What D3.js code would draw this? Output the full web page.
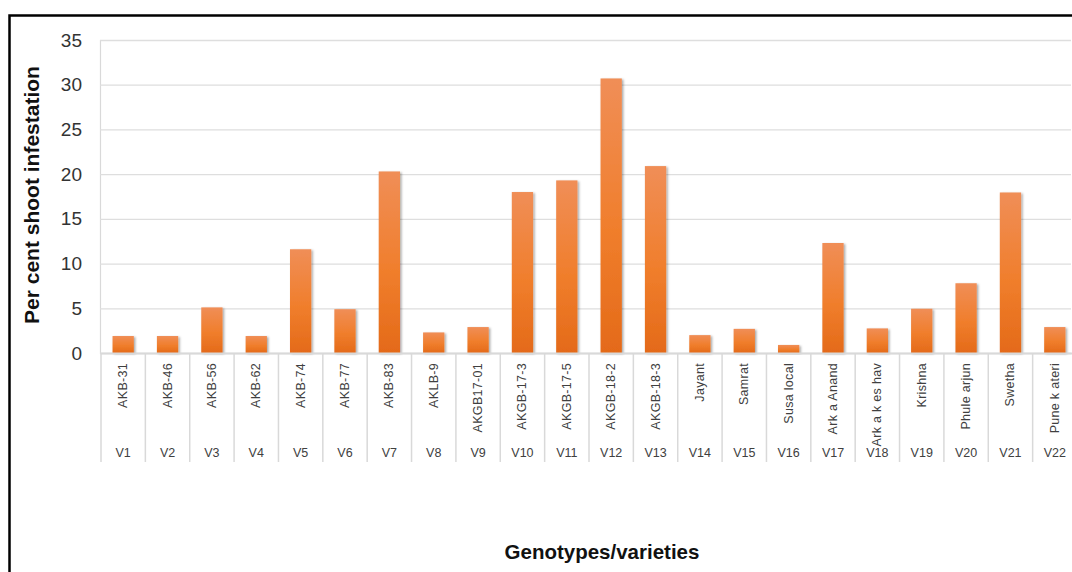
<!DOCTYPE html>
<html>
<head>
<meta charset="utf-8">
<script src="https://cdn.jsdelivr.net/npm/d3@7/dist/d3.min.js"></script>
<style>
  html, body { margin: 0; padding: 0; background: #fff; overflow: hidden; }
  svg { display: block; font-family: "Liberation Sans", Arial, sans-serif; }
</style>
</head>
<body>
<svg id="chart" width="1072" height="572"></svg>
<script>
const codes = ["V1","V2","V3","V4","V5","V6","V7","V8","V9","V10","V11","V12","V13","V14","V15","V16","V17","V18","V19","V20","V21","V22"];
const names = ["AKB-31","AKB-46","AKB-56","AKB-62","AKB-74","AKB-77","AKB-83","AKLB-9","AKGB17-01","AKGB-17-3","AKGB-17-5","AKGB-18-2","AKGB-18-3","Jayant","Samrat","Susa local","Ark a Anand","Ark a k es hav","Krishna","Phule arjun","Swetha","Pune k ateri"];
const values = [1.9, 1.9, 5.1, 1.9, 11.6, 4.9, 20.3, 2.3, 2.9, 18.0, 19.3, 30.7, 20.9, 2.0, 2.7, 0.9, 12.3, 2.75, 4.95, 7.8, 17.95, 2.9];
const yTicks = [0, 5, 10, 15, 20, 25, 30, 35];

const svg = d3.select("#chart");
const defs = svg.append("defs");
const grad = defs.append("linearGradient").attr("id", "barGrad")
  .attr("x1", 0).attr("y1", 0).attr("x2", 0).attr("y2", 1);
grad.append("stop").attr("offset", "0%").attr("stop-color", "#F08E57");
grad.append("stop").attr("offset", "55%").attr("stop-color", "#F07E2C");
grad.append("stop").attr("offset", "100%").attr("stop-color", "#E46A19");
const filt = defs.append("filter").attr("id", "shadow")
  .attr("x", "-30%").attr("y", "-10%").attr("width", "160%").attr("height", "130%");
filt.append("feDropShadow").attr("dx", 1.5).attr("dy", 1).attr("stdDeviation", 1.3)
  .attr("flood-color", "#000").attr("flood-opacity", 0.35);

const plotL = 101, plotR = 1077, plotT = 40, plotB = 353;
const x = d3.scaleBand().domain(codes).range([plotL, plotR]).padding(0);
const y = d3.scaleLinear().domain([0, 35]).range([plotB, plotT]);

// outer frame
svg.append("rect").attr("x", 9.5).attr("y", 15.5).attr("width", 1100).attr("height", 600)
  .attr("fill", "#fff").attr("stroke", "#000").attr("stroke-width", 2.5);

// gridlines
const yAxis = d3.axisLeft(y).tickValues(yTicks).tickSize(-(1072 - plotL)).tickPadding(18);
const gy = svg.append("g").attr("transform", `translate(${plotL - 1},0)`).call(yAxis);
gy.select(".domain").attr("stroke", "#d9d9d9").attr("stroke-width", 1.2);
gy.selectAll(".tick line").attr("stroke", "#dedede").attr("stroke-width", 1.3);
gy.selectAll(".tick text").attr("font-size", 19).attr("fill", "#333")
  .attr("font-family", "'Liberation Sans', Arial, sans-serif");

// bars
const bw = x.bandwidth() * 0.48;
svg.append("g").selectAll("rect").data(values).join("rect")
  .attr("x", (d, i) => x(codes[i]) + (x.bandwidth() - bw) / 2)
  .attr("y", d => y(d))
  .attr("width", bw)
  .attr("height", d => y(0) - y(d))
  .attr("fill", "url(#barGrad)")
  .attr("filter", "url(#shadow)");

// category axis
const gx = svg.append("g");
gx.append("line").attr("x1", plotL).attr("x2", 1072).attr("y1", plotB + 0.5).attr("y2", plotB + 0.5)
  .attr("stroke", "#d9d9d9").attr("stroke-width", 2);
const bounds = codes.map(c => x(c)).concat([x(codes[codes.length - 1]) + x.bandwidth()]);
gx.selectAll("line.div").data(bounds).join("line").attr("class", "div")
  .attr("x1", d => d).attr("x2", d => d).attr("y1", plotB).attr("y2", 462)
  .attr("stroke", "#d9d9d9").attr("stroke-width", 1.5);
gx.selectAll("text.name").data(names).join("text").attr("class", "name")
  .attr("transform", (d, i) => `translate(${x(codes[i]) + x.bandwidth() / 2 + 4},363) rotate(-90)`)
  .attr("text-anchor", "end")
  .attr("font-size", 12.5).attr("letter-spacing", 0.3).attr("fill", "#404040")
  .text(d => d);
gx.selectAll("text.code").data(codes).join("text").attr("class", "code")
  .attr("x", d => x(d) + x.bandwidth() / 2).attr("y", 457)
  .attr("text-anchor", "middle").attr("font-size", 12.5).attr("fill", "#404040")
  .text(d => d);

// axis titles
svg.append("text").attr("transform", "translate(39,195) rotate(-90)")
  .attr("text-anchor", "middle").attr("font-size", 21).attr("font-weight", "bold").attr("fill", "#111")
  .text("Per cent shoot infestation");
svg.append("text").attr("x", 602).attr("y", 559)
  .attr("text-anchor", "middle").attr("font-size", 20.5).attr("font-weight", "bold").attr("fill", "#111")
  .text("Genotypes/varieties");
</script>
</body>
</html>
